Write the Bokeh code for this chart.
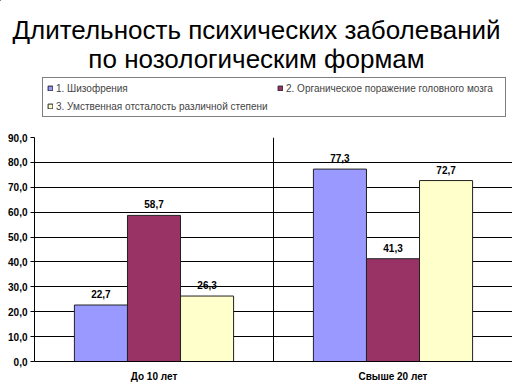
from bokeh.plotting import figure
from bokeh.models import (ColumnDataSource, FactorRange, Legend, LegendItem, Span, Range1d,
                          CustomJSTickFormatter, FixedTicker)
from bokeh.transform import dodge
from bokeh.embed import file_html
from bokeh.resources import INLINE
from bokeh.core.properties import value

title_lines = ["Длительность психических заболеваний", "по нозологическим формам"]
categories = ["До 10 лет", "Свыше 20 лет"]
series_names = ["1. Шизофрения", "2. Органическое поражение головного мозга",
                "3. Умственная отсталость различной степени"]
s1 = [22.7, 77.3]
s2 = [58.7, 41.3]
s3 = [26.3, 72.7]
y_ticks = [0, 10, 20, 30, 40, 50, 60, 70, 80, 90]
colors = ["#9999FF", "#993366", "#FFFFCC"]

FONT = "Liberation Sans"

def fmt(v):
    return f"{v:.1f}".replace(".", ",")

# ---------- header: title + legend ----------
W = 512
HEAD_H = 127
top = figure(width=W, height=HEAD_H, x_range=Range1d(0, W), y_range=Range1d(HEAD_H, 0),
             output_backend="svg", toolbar_location=None, x_axis_type=None, y_axis_type=None,
             min_border=0, min_border_left=0, min_border_right=0, min_border_top=0,
             min_border_bottom=0)
top.outline_line_color = None
top.xgrid.grid_line_color = None
top.ygrid.grid_line_color = None

title_src = ColumnDataSource(dict(x=[W / 2, W / 2], y=[29, 58], t=title_lines))
top.text(x="x", y="y", text="t", source=title_src, text_align="center",
         text_baseline="alphabetic", text_font=value(FONT), text_font_size="26px",
         text_color="black")

# legend swatches (off-canvas stand-ins carrying the bar styles)
dummy = []
for c in colors:
    dummy.append(top.vbar(x=-100, top=0, bottom=0, width=1, fill_color=c,
                          line_color="#222222"))

legend = Legend(items=[LegendItem(label=n, renderers=[r]) for n, r in zip(series_names, dummy)],
                location=(42, HEAD_H - 117), orientation="horizontal", ncols=2,
                border_line_color="black", border_line_width=1,
                padding=4, spacing=6, label_height=12, label_width=215,
                glyph_width=6, glyph_height=6, label_standoff=3,
                label_text_font=FONT, label_text_font_size="10px",
                background_fill_color="white", margin=0)
top.add_layout(legend)

# ---------- chart ----------
src = ColumnDataSource(dict(
    cat=categories, s1=s1, s2=s2, s3=s3,
    l1=[fmt(v) for v in s1], l2=[fmt(v) for v in s2], l3=[fmt(v) for v in s3],
))

p = figure(width=W, height=384 - HEAD_H, x_range=FactorRange(factors=categories),
           y_range=(0, 90), output_backend="svg", toolbar_location=None,
           min_border_left=34, min_border_right=0, min_border_top=137 - HEAD_H,
           min_border_bottom=22)
p.outline_line_color = None
p.xgrid.grid_line_color = None
p.ygrid.grid_line_color = "black"
p.ygrid.grid_line_width = 1
p.yaxis.ticker = FixedTicker(ticks=y_ticks)
p.yaxis.formatter = CustomJSTickFormatter(code="return tick.toFixed(1).replace('.', ',');")
for ax in (p.xaxis[0], p.yaxis[0]):
    ax.axis_line_color = "black"
    ax.major_label_text_font = FONT
    ax.major_label_text_font_size = "10px"
    ax.major_label_text_color = "black"
    ax.major_label_text_font_style = "bold"
p.yaxis.major_tick_out = 4
p.yaxis.major_tick_in = 0
p.yaxis.minor_tick_line_color = None
p.yaxis.major_tick_line_color = "black"
p.yaxis.major_label_standoff = 3
p.xaxis.major_tick_line_color = None
p.xaxis.major_label_standoff = 3

sep = Span(location=1, dimension="height", line_color="black", line_width=1)
p.add_layout(sep)

offs = [-0.222, 0.0, 0.222]
for key, lab, off, c in zip(["s1", "s2", "s3"], ["l1", "l2", "l3"], offs, colors):
    p.vbar(x=dodge("cat", off, range=p.x_range), top=key, width=0.222, source=src,
           fill_color=c, line_color="#222222", line_width=1)
    p.text(x=dodge("cat", off, range=p.x_range), y=key, text=lab, source=src,
           text_align="center", text_baseline="bottom", y_offset=-7,
           text_font=value(FONT), text_font_size="10px", text_font_style="bold",
           text_color="black")

with open("out.html", "w") as f:
    f.write(file_html([top, p], INLINE))
